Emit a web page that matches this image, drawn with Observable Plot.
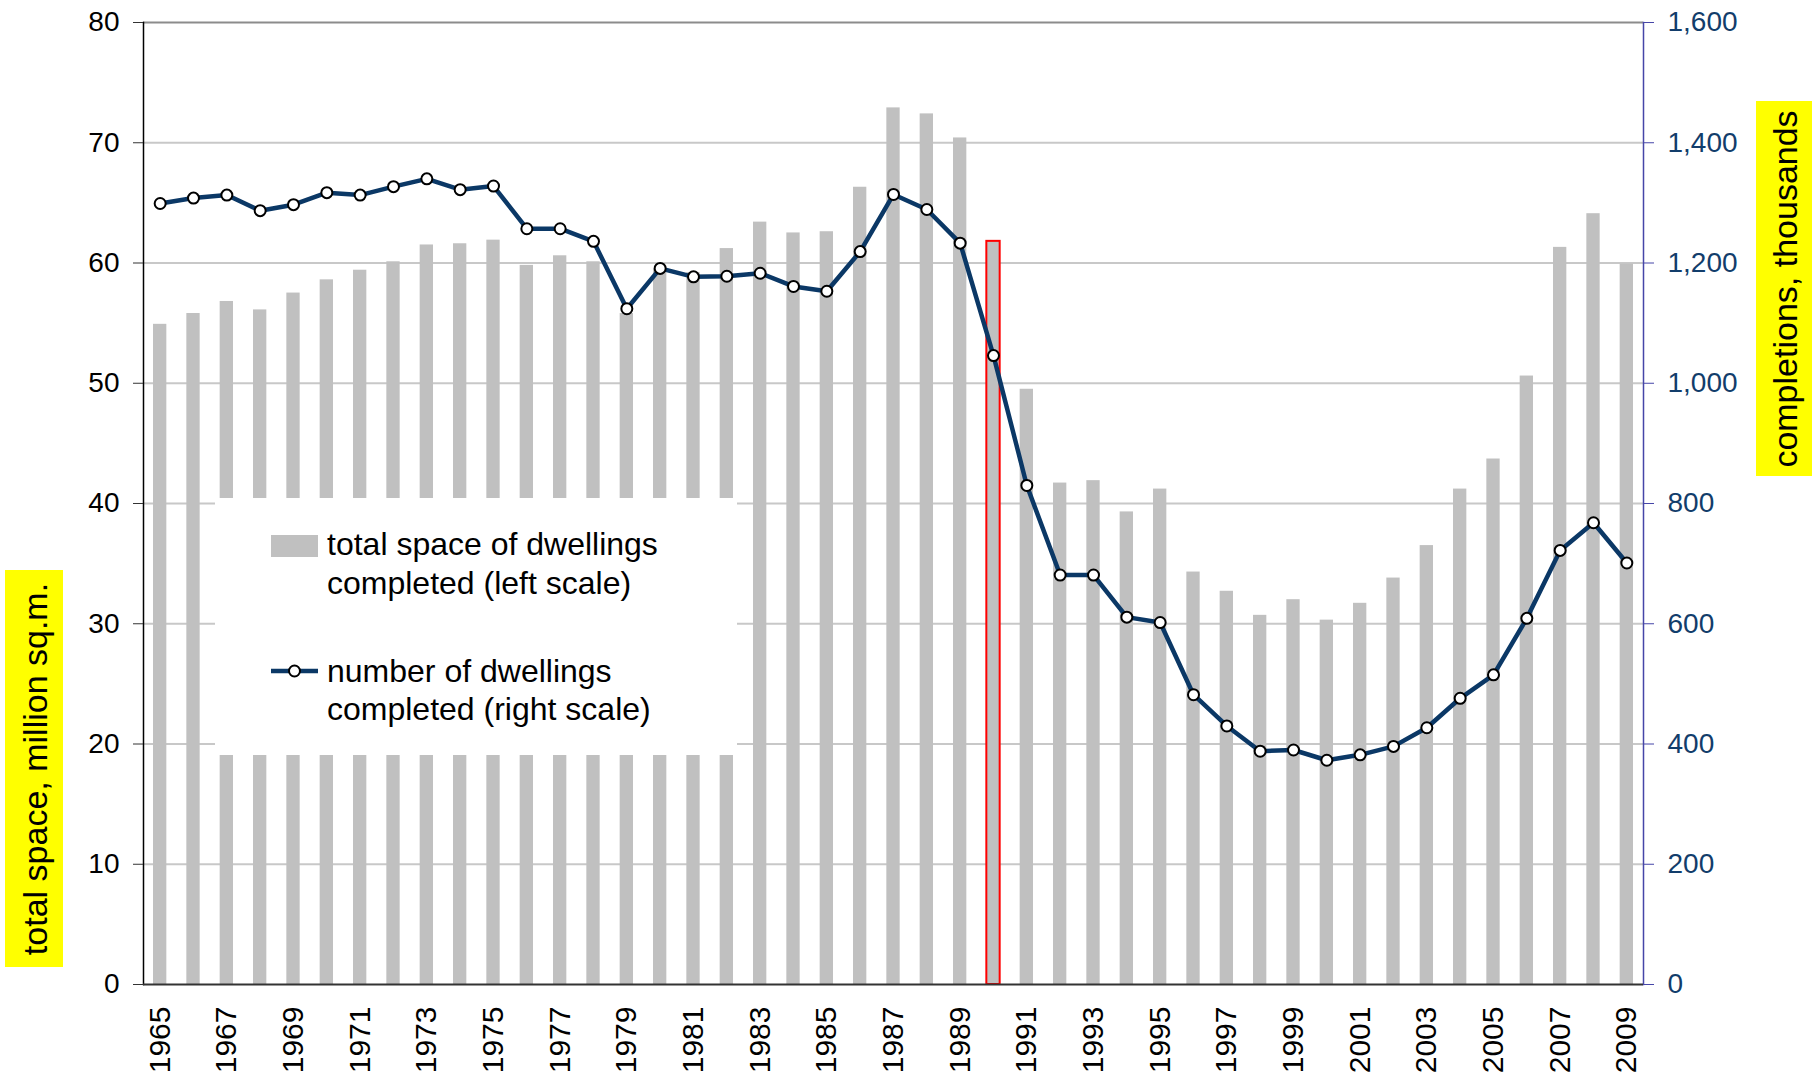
<!DOCTYPE html>
<html><head><meta charset="utf-8">
<script src="https://cdn.jsdelivr.net/npm/d3@7"></script>
<script src="https://cdn.jsdelivr.net/npm/@observablehq/plot@0.6"></script>
<style>html,body{margin:0;padding:0;background:#fff;} #chart svg{display:block;}</style>
</head><body><div id="chart"></div>
<script>
const years = [1965,1966,1967,1968,1969,1970,1971,1972,1973,1974,1975,1976,1977,1978,1979,1980,1981,1982,1983,1984,1985,1986,1987,1988,1989,1990,1991,1992,1993,1994,1995,1996,1997,1998,1999,2000,2001,2002,2003,2004,2005,2006,2007,2008,2009];
const spaceMillionSqm = [54.9,55.8,56.8,56.1,57.5,58.6,59.4,60.1,61.5,61.6,61.9,59.8,60.6,60.1,55.8,59.5,59.2,61.2,63.4,62.5,62.6,66.3,72.9,72.4,70.4,61.8,49.5,41.7,41.9,39.3,41.2,34.3,32.7,30.7,32.0,30.3,31.7,33.8,36.5,41.2,43.7,50.6,61.3,64.1,59.9];
const completionsThousands = [1299,1308,1313,1287,1297,1317,1313,1327,1340,1322,1328,1257,1257,1236,1124,1191,1177,1178,1183,1161,1153,1219,1314,1289,1233,1046,830,681,681,611,602,482,430,388,390,373,382,396,427,476,515,609,722,768,701];
const highlightYear = 1990;
const leftTicks = [0,10,20,30,40,50,60,70,80];
const rightTickLabels = ["0","200","400","600","800","1,000","1,200","1,400","1,600"];
const labeledYears = [1965,1967,1969,1971,1973,1975,1977,1979,1981,1983,1985,1987,1989,1991,1993,1995,1997,1999,2001,2003,2005,2007,2009];
const legendSpaceLines = ["total space of dwellings","completed (left scale)"];
const legendCountLines = ["number of dwellings","completed (right scale)"];
const leftTitle = "total space, million sq.m.";
const rightTitle = "completions, thousands";
const RIGHT_PER_LEFT = 20; // 1,600 on the right axis = 80 on the left axis

const data = years.map((year, i) => ({year, space: spaceMillionSqm[i], units: completionsThousands[i]}));
const FONT = "'Liberation Sans', Arial, Helvetica, sans-serif";

const plot = Plot.plot({
  width: 1820, height: 1077,
  marginLeft: 143, marginRight: 177, marginTop: 22, marginBottom: 93,
  style: {fontFamily: FONT, background: "white", overflow: "visible"},
  x: {type: "band", domain: years, paddingInner: 0.6, paddingOuter: 0.3, round: false},
  y: {domain: [0, 80]},
  marks: [
    Plot.gridY(leftTicks.filter(t => t > 0 && t < 80), {stroke: "#c8c8c8", strokeOpacity: 1, strokeWidth: 2}),
    Plot.barY(data, {x: "year", y: "space", fill: "#c0c0c0"}),
    Plot.barY(data.filter(d => d.year === highlightYear), {x: "year", y: "space", fill: "none", stroke: "#ff0000", strokeWidth: 2}),
    Plot.ruleY([80], {stroke: "#8c8c8c", strokeWidth: 2}),
    Plot.frame({anchor: "left", stroke: "#000", strokeWidth: 1.5}),
    Plot.frame({anchor: "right", stroke: "#4646a8", strokeWidth: 1.5}),
    Plot.ruleY([0], {stroke: "#333", strokeWidth: 2}),
    Plot.axisY(leftTicks, {anchor: "left", tickSize: 10, tickPadding: 14, fontSize: 28, fill: "#000", stroke: "#333", label: null}),
    Plot.axisY(leftTicks, {anchor: "right", tickSize: 10, tickPadding: 14, fontSize: 28, fill: "#123d6b", stroke: "#4646a8",
      tickFormat: d => rightTickLabels[leftTicks.indexOf(d)], label: null}),
    Plot.axisX(labeledYears, {anchor: "bottom", tickSize: 0, tickPadding: 22, tickRotate: -90, fontSize: 30, fill: "#000",
      tickFormat: d => String(d), label: null}),
    Plot.line(data, {x: "year", y: d => d.units / RIGHT_PER_LEFT, stroke: "#0b3866", strokeWidth: 4.5}),
    Plot.dot(data, {x: "year", y: d => d.units / RIGHT_PER_LEFT, r: 5.5, fill: "white", stroke: "black", strokeWidth: 2})
  ]
});

document.getElementById("chart").appendChild(plot);

const svg = d3.select(plot.tagName.toLowerCase() === "svg" ? plot : plot.querySelector("svg"));

// Legend (white box over the bars)
const lg = svg.append("g").attr("font-family", FONT).attr("font-size", 32).attr("fill", "#000").attr("text-anchor", "start");
lg.append("rect").attr("x", 215).attr("y", 498).attr("width", 522).attr("height", 257).attr("fill", "white");
lg.append("rect").attr("x", 271).attr("y", 535).attr("width", 47).attr("height", 22).attr("fill", "#c0c0c0");
lg.append("text").attr("x", 327).attr("y", 555).text(legendSpaceLines[0]);
lg.append("text").attr("x", 327).attr("y", 594).text(legendSpaceLines[1]);
lg.append("line").attr("x1", 271).attr("x2", 318).attr("y1", 671).attr("y2", 671).attr("stroke", "#0b3866").attr("stroke-width", 4.5);
lg.append("circle").attr("cx", 294.5).attr("cy", 671).attr("r", 5.5).attr("fill", "white").attr("stroke", "black").attr("stroke-width", 2);
lg.append("text").attr("x", 327).attr("y", 682).text(legendCountLines[0]);
lg.append("text").attr("x", 327).attr("y", 720).text(legendCountLines[1]);

// Axis titles on yellow
const tg = svg.append("g").attr("font-family", FONT).attr("font-size", 34).attr("fill", "#000");
tg.append("rect").attr("x", 5).attr("y", 570).attr("width", 58).attr("height", 397).attr("fill", "#ffff00");
tg.append("text").attr("transform", "translate(35,769) rotate(-90)").attr("text-anchor", "middle").attr("dominant-baseline", "central").text(leftTitle);
tg.append("rect").attr("x", 1756).attr("y", 101).attr("width", 56).attr("height", 375).attr("fill", "#ffff00");
tg.append("text").attr("transform", "translate(1785,289) rotate(-90)").attr("text-anchor", "middle").attr("dominant-baseline", "central").text(rightTitle);
</script>
</body></html>
